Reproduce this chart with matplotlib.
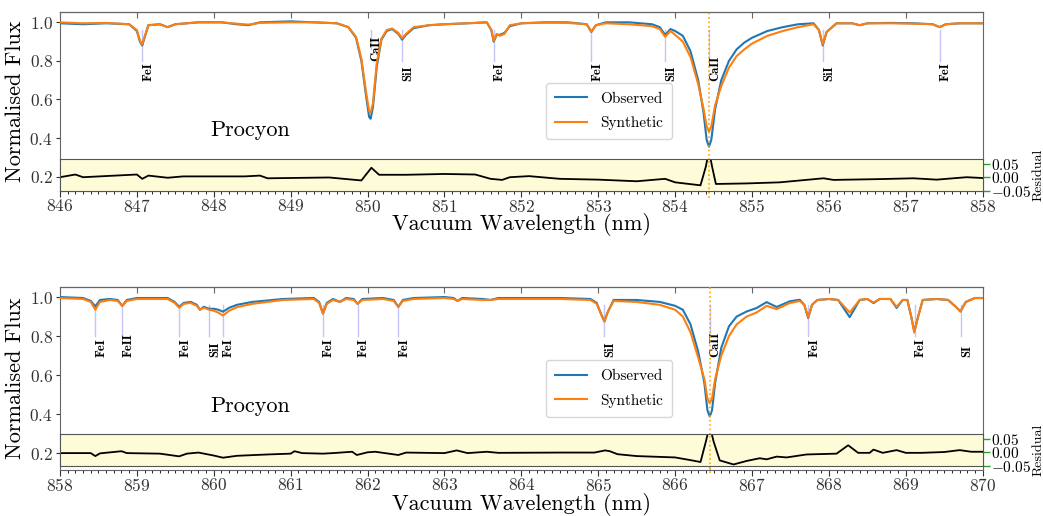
import numpy as np
import matplotlib
matplotlib.use('Agg')
import matplotlib.pyplot as plt
from matplotlib.ticker import MultipleLocator

plt.rcParams['font.family'] = 'serif'
plt.rcParams['font.serif'] = ['cmr10']
plt.rcParams['mathtext.fontset'] = 'cm'
plt.rcParams['axes.formatter.use_mathtext'] = True

# ---- upper window 846-858 nm ----
wl_top = [846.0, 846.3, 846.6, 846.9, 847.0, 847.04, 847.07, 847.1, 847.15, 847.3,
          847.4, 847.5, 847.8, 848.1, 848.3, 848.45, 848.6, 849.0, 849.3, 849.6,
          849.75, 849.85, 849.92, 849.98, 850.02, 850.04, 850.07, 850.12, 850.18, 850.25,
          850.32, 850.4, 850.45, 850.5, 850.6, 850.8, 851.0, 851.3, 851.55, 851.61,
          851.64, 851.68, 851.72, 851.78, 851.85, 852.0, 852.3, 852.6, 852.85, 852.91,
          852.97, 853.1, 853.4, 853.7, 853.8, 853.87, 853.94, 854.0, 854.1, 854.2,
          854.3, 854.37, 854.41, 854.44, 854.47, 854.52, 854.6, 854.7, 854.8, 854.9,
          855.0, 855.2, 855.4, 855.6, 855.8, 855.87, 855.92, 855.97, 856.1, 856.3,
          856.4, 856.5, 856.8, 857.1, 857.35, 857.44, 857.52, 857.7, 858.0]
obs_top = [0.995, 0.99, 0.995, 0.99, 0.955, 0.90, 0.88, 0.92, 0.985, 0.99,
           0.975, 0.99, 1.0, 1.0, 0.99, 0.985, 1.0, 1.005, 1.0, 0.995,
           0.975, 0.92, 0.80, 0.62, 0.51, 0.50, 0.56, 0.77, 0.91, 0.955,
           0.965, 0.94, 0.91, 0.935, 0.97, 0.985, 0.99, 0.995, 1.0, 0.96,
           0.90, 0.935, 0.935, 0.945, 0.98, 0.995, 1.0, 1.0, 0.99, 0.95,
           0.985, 1.0, 1.0, 0.99, 0.975, 0.935, 0.965, 0.955, 0.93, 0.85,
           0.70, 0.53, 0.39, 0.355, 0.39, 0.55, 0.70, 0.80, 0.86, 0.895,
           0.92, 0.955, 0.975, 0.99, 0.995, 0.96, 0.88, 0.95, 0.995, 0.995,
           0.985, 0.995, 0.997, 0.995, 0.99, 0.975, 0.99, 0.995, 0.995]
syn_top = [1.0, 0.995, 0.997, 0.99, 0.96, 0.905, 0.885, 0.925, 0.985, 0.99,
           0.975, 0.99, 1.0, 1.0, 0.993, 0.988, 0.997, 1.0, 1.0, 0.995,
           0.975, 0.925, 0.81, 0.64, 0.54, 0.53, 0.58, 0.79, 0.915, 0.96,
           0.968, 0.945, 0.917, 0.94, 0.975, 0.985, 0.99, 0.995, 1.0, 0.96,
           0.905, 0.94, 0.93, 0.94, 0.985, 0.995, 0.998, 0.997, 0.99, 0.952,
           0.985, 0.995, 0.99, 0.98, 0.965, 0.925, 0.955, 0.935, 0.90, 0.82,
           0.68, 0.55, 0.46, 0.433, 0.46, 0.57, 0.67, 0.765, 0.825, 0.86,
           0.89, 0.93, 0.955, 0.975, 0.99, 0.96, 0.885, 0.95, 0.995, 0.995,
           0.985, 0.995, 0.995, 0.993, 0.99, 0.975, 0.99, 0.995, 0.995]
res_wl_top = [846.0, 846.2, 846.3, 847.0, 847.07, 847.15, 847.4, 847.6, 848.4, 848.6,
              848.7, 849.5, 849.92, 850.05, 850.15, 850.5, 851.0, 851.4, 851.6, 851.75,
              851.85, 852.1, 852.5, 853.0, 853.5, 853.87, 854.0, 854.33, 854.4, 854.44,
              854.48, 854.53, 854.93, 855.36, 855.93, 856.06, 856.66, 857.1, 857.4, 857.79,
              858.0]
res_top = [0.0, 0.01, 0.0, 0.01, -0.006, 0.006, -0.002, 0.003, 0.003, 0.006,
           -0.004, -0.001, -0.012, 0.035, 0.009, 0.009, 0.012, 0.01, -0.006, -0.01,
           0.0, 0.004, -0.006, -0.009, -0.015, -0.006, -0.019, -0.03, 0.04, 0.1,
           0.04, -0.025, -0.023, -0.019, -0.004, -0.01, -0.007, -0.004, -0.009, 0.0,
           -0.003]
line_wl_top = [847.07, 850.04, 850.45, 851.64, 852.91, 853.87, 854.44, 855.92, 857.44]
line_name_top = ['FeI', 'CaII', 'SiI', 'FeI', 'FeI', 'SiI', 'CaII', 'SiI', 'FeI']

# ---- lower window 858-870 nm ----
wl_bot = [858.0, 858.3, 858.4, 858.46, 858.52, 858.65, 858.75, 858.81, 858.87, 859.0,
          859.4, 859.49, 859.55, 859.61, 859.7, 859.78, 859.82, 859.87, 859.94, 860.0,
          860.06, 860.12, 860.2, 860.3, 860.5, 860.9, 861.3, 861.37, 861.42, 861.47,
          861.55, 861.64, 861.72, 861.82, 861.87, 861.93, 862.2, 862.34, 862.4, 862.46,
          862.6, 863.0, 863.12, 863.17, 863.23, 863.5, 863.6, 863.7, 864.0, 864.5,
          864.9, 864.98, 865.04, 865.08, 865.12, 865.2, 865.5, 865.8, 866.0, 866.1,
          866.2, 866.3, 866.38, 866.42, 866.45, 866.48, 866.52, 866.6, 866.7, 866.8,
          866.93, 867.06, 867.19, 867.32, 867.49, 867.62, 867.68, 867.73, 867.78, 867.85,
          868.0, 868.12, 868.27, 868.4, 868.5, 868.58, 868.66, 868.8, 868.88, 868.96,
          869.02, 869.07, 869.11, 869.16, 869.22, 869.4, 869.55, 869.65, 869.71, 869.78,
          869.9, 870.0]
obs_bot = [1.0, 0.995, 0.98, 0.952, 0.985, 0.99, 0.985, 0.955, 0.985, 0.995,
           0.995, 0.975, 0.95, 0.97, 0.975, 0.96, 0.935, 0.95, 0.94, 0.94,
           0.935, 0.925, 0.945, 0.96, 0.975, 0.99, 0.995, 0.975, 0.915, 0.97,
           0.99, 0.975, 0.995, 0.99, 0.965, 0.99, 0.995, 0.985, 0.95, 0.985,
           0.995, 1.0, 0.995, 0.98, 0.995, 0.99, 0.985, 0.995, 0.995, 0.995,
           0.99, 0.97, 0.91, 0.875, 0.92, 0.985, 0.985, 0.975, 0.955, 0.935,
           0.86, 0.72, 0.56, 0.42, 0.388, 0.42, 0.56, 0.74, 0.85, 0.90,
           0.926, 0.944, 0.974, 0.949, 0.978, 0.986, 0.96, 0.892, 0.96, 0.985,
           0.99, 0.985, 0.897, 0.985, 0.99, 0.969, 0.99, 0.99, 0.944, 0.985,
           0.985, 0.90, 0.824, 0.90, 0.985, 0.99, 0.985, 0.95, 0.926, 0.975,
           0.995, 0.995]
syn_bot = [0.995, 0.99, 0.975, 0.935, 0.975, 0.985, 0.98, 0.955, 0.98, 0.99,
           0.99, 0.97, 0.945, 0.965, 0.97, 0.955, 0.935, 0.945, 0.935, 0.93,
           0.92, 0.905, 0.93, 0.948, 0.965, 0.985, 0.99, 0.97, 0.915, 0.965,
           0.985, 0.975, 0.99, 0.985, 0.965, 0.985, 0.99, 0.98, 0.95, 0.98,
           0.99, 0.995, 0.99, 0.98, 0.99, 0.985, 0.985, 0.99, 0.99, 0.99,
           0.985, 0.965, 0.91, 0.875, 0.92, 0.98, 0.975, 0.96, 0.935, 0.90,
           0.82, 0.69, 0.58, 0.48, 0.456, 0.48, 0.58, 0.70, 0.80, 0.86,
           0.90, 0.921, 0.955, 0.938, 0.969, 0.98, 0.96, 0.895, 0.96, 0.985,
           0.99, 0.985, 0.921, 0.985, 0.99, 0.972, 0.99, 0.99, 0.95, 0.985,
           0.985, 0.90, 0.818, 0.90, 0.985, 0.99, 0.985, 0.95, 0.926, 0.975,
           0.995, 0.995]
res_wl_bot = [858.0, 858.4, 858.46, 858.52, 858.8, 858.87, 859.3, 859.55, 859.65, 859.8,
              860.0, 860.12, 860.3, 860.7, 861.0, 861.05, 861.15, 861.42, 861.55, 861.8,
              861.86, 862.0, 862.1, 862.4, 862.5, 863.0, 863.16, 863.3, 863.55, 863.7,
              864.5, 864.95, 865.09, 865.15, 865.25, 865.5, 866.0, 866.2, 866.33, 866.4,
              866.45, 866.5, 866.58, 866.76, 866.93, 867.1, 867.19, 867.32, 867.45, 867.71,
              868.1, 868.25, 868.38, 868.53, 868.58, 868.7, 868.88, 869.0, 869.2, 869.5,
              869.7, 869.85, 870.0]
res_bot = [-0.003, -0.003, -0.014, -0.004, 0.004, -0.003, -0.005, -0.015, -0.005, -0.001,
           -0.012, -0.02, -0.013, -0.008, -0.005, 0.004, -0.003, -0.005, -0.003, 0.002,
           -0.01, 0.0, 0.002, -0.01, -0.001, -0.003, 0.007, -0.003, 0.002, -0.002,
           -0.001, -0.001, 0.007, 0.004, -0.007, -0.014, -0.019, -0.029, -0.036, 0.04,
           0.1, 0.04, -0.03, -0.045, -0.032, -0.022, -0.026, -0.016, -0.019, -0.008,
           -0.005, 0.026, -0.002, -0.002, 0.01, -0.002, 0.008, -0.002, -0.002, 0.001,
           0.008, 0.002, 0.002]
line_wl_bot = [858.46, 858.81, 859.55, 859.94, 860.12, 861.42, 861.87, 862.40, 865.08,
               866.45, 867.73, 869.12, 869.72]
line_name_bot = ['FeI', 'FeII', 'FeI', 'SiI', 'FeI', 'FeI', 'FeI', 'FeI', 'SiI',
                 'CaII', 'FeI', 'FeI', 'SI']


def panel(rect, xlim, ylim, wl, obs, syn, rwl, res, lwl, lname, core, res_rect, raised=()):
    ax = fig.add_axes(rect)
    ax.plot(wl, obs, color='#1f77b4', lw=1.5, label='Observed', zorder=3)
    ax.plot(wl, syn, color='#ff7f0e', lw=1.5, label='Synthetic', zorder=4)
    for w, n in zip(lwl, lname):
        if w in raised:
            ax.plot([w, w], [0.86, 0.96], color='#c4c4fa', lw=1, zorder=2)
            ax.text(w, 0.80, n, rotation=90, ha='left', va='bottom', fontsize=9, family='cmb10')
        else:
            ax.plot([w, w], [0.80, 0.96], color='#c4c4fa', lw=1, zorder=2)
            ax.text(w, 0.695, n, rotation=90, ha='left', va='bottom', fontsize=9, family='cmb10')
    ax.axvline(core, color='orange', ls=':', lw=1.2, zorder=5)
    ax.text(xlim[0] + 2.47, 0.44, 'Procyon', fontsize=16, ha='center', va='center')
    ax.set_xlim(xlim)
    ax.set_ylim(ylim)
    ax.xaxis.set_major_locator(MultipleLocator(1))
    ax.xaxis.set_minor_locator(MultipleLocator(0.1))
    ax.yaxis.set_major_locator(MultipleLocator(0.2))
    ax.tick_params(axis='x', which='major', direction='out', length=4, labelsize=12.5, pad=1)
    ax.tick_params(axis='x', which='minor', direction='out', length=2)
    ax.tick_params(axis='y', direction='out', length=3, labelsize=12.5, pad=2)
    ax.tick_params(colors='#333333')
    for s in ax.spines.values():
        s.set_color('#666666')
    top = ax.secondary_xaxis('top')
    top.xaxis.set_major_locator(MultipleLocator(1))
    top.tick_params(direction='in', length=4, labeltop=False, colors='#666666')
    ax.set_xlabel('Vacuum Wavelength (nm)', fontsize=16, labelpad=-1)
    ax.set_ylabel('Normalised Flux', fontsize=16, labelpad=3)
    ax.legend(loc='center', bbox_to_anchor=(0.595, 0.445), fontsize=11,
              handlelength=2.1, borderpad=0.6, labelspacing=0.7)

    ar = ax.inset_axes(res_rect)
    ar.set_facecolor('#fdfbd8')
    ar.plot(rwl, res, color='black', lw=1.3)
    ar.axvline(core, ymin=-0.22, ymax=1, color='orange', ls=':', lw=1.2, clip_on=False)
    ar.set_xlim(xlim)
    ar.set_ylim(-0.05, 0.066)
    ar.set_xticks([])
    ar.yaxis.tick_right()
    ar.set_yticks([-0.05, 0.0, 0.05])
    ar.tick_params(axis='y', color='tab:green', labelcolor='black', length=5,
                   width=1, labelsize=11, pad=1)
    ar.yaxis.set_label_position('right')
    ar.set_ylabel('Residual', fontsize=10, labelpad=1)
    for s in ar.spines.values():
        s.set_color('#555555')
        s.set_linewidth(0.8)
    return ax


fig = plt.figure(figsize=(10.43, 5.16), dpi=100)
panel([0.0575, 0.6304, 0.8847, 0.3469], (846, 858), (0.127, 1.055),
      wl_top, obs_top, syn_top, res_wl_top, res_top, line_wl_top, line_name_top,
      854.44, [0, 0.0, 1, 0.175], raised=(850.04,))
panel([0.0575, 0.0891, 0.8847, 0.3553], (858, 870), (0.114, 1.053),
      wl_bot, obs_bot, syn_bot, res_wl_bot, res_bot, line_wl_bot, line_name_bot,
      866.45, [0, 0.023, 1, 0.171])

fig.savefig('out.png', dpi=100)
